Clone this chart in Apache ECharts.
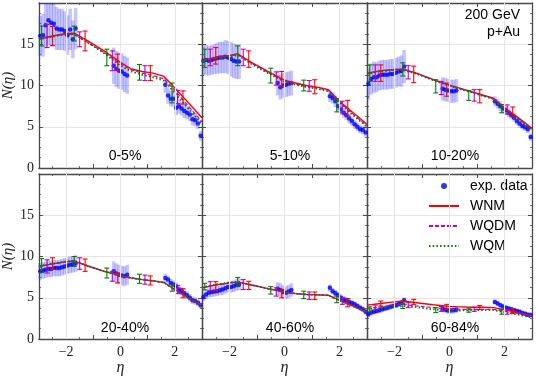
<!DOCTYPE html>
<html>
<head>
<meta charset="utf-8">
<script src="https://cdn.jsdelivr.net/npm/echarts@6/dist/echarts.min.js"></script>
<style>html,body{margin:0;padding:0;background:#fff}#main{width:536px;height:377px}</style>
</head>
<body>
<div id="main"></div>
<script>
const centralities = ['0-5%', '5-10%', '10-20%', '20-40%', '40-60%', '60-84%'];

// measured pseudorapidity bins (backward, mid, forward)
const etaExp = [-2.95, -2.85, -2.75, -2.65, -2.55, -2.45, -2.35, -2.25, -2.15, -2.05, -1.95, -1.85, -1.75, -1.65,
  -0.25, -0.15, -0.05, 0.05, 0.15, 0.25,
  1.65, 1.75, 1.85, 1.95, 2.05, 2.15, 2.25, 2.35, 2.45, 2.55, 2.65, 2.75, 2.85, 2.95];

// one row per centrality
const expN = [
  [16.0, 16.1, 17.3, 17.9, 17.6, 17.5, 16.9, 16.8, 16.8, 16.6, 16.1, 16.8, 15.6, 16.9,
    12.4, 12.0, 11.8, 11.7, 11.4, 11.2,
    10.1, 8.8, 8.4, 8.4, 7.3, 7.5, 7.2, 6.9, 6.7, 6.5, 5.9, 5.8, 5.4, 3.9],
  [13.0, 13.1, 13.0, 13.1, 13.2, 13.3, 13.4, 13.4, 13.5, 13.4, 13.2, 13.0, 12.9, 12.9,
    10.3, 9.8, 10.0, 10.1, 10.2, 10.3,
    8.7, 8.5, 8.1, 7.5, 7.1, 6.7, 6.4, 6.0, 5.7, 5.3, 5.0, 4.7, 4.6, 4.3],
  [10.2, 10.8, 11.0, 11.0, 11.2, 11.3, 11.3, 11.3, 11.4, 11.4, 11.55, 11.7, 11.75, 12.3,
    9.6, 9.5, 9.4, 9.3, 9.3, 9.4,
    8.1, 7.8, 7.5, 7.2, 7.0, 6.7, 6.4, 6.1, 5.7, 5.4, 5.1, 4.95, 4.7, 3.75],
  [8.2, 8.3, 8.4, 8.5, 8.5, 8.6, 8.6, 8.6, 8.7, 8.8, 8.9, 9.0, 9.05, 9.15,
    8.2, 7.95, 7.8, 7.7, 7.6, 7.8,
    7.4, 7.2, 6.8, 6.6, 6.35, 6.0, 5.8, 5.55, 5.3, 5.0, 4.7, 4.6, 4.4, 4.1],
  [5.1, 5.4, 5.6, 5.7, 5.75, 5.8, 5.9, 6.0, 6.15, 6.3, 6.3, 6.4, 6.55, 6.6,
    6.1, 5.95, 5.7, 5.6, 5.75, 5.95,
    6.2, 5.8, 5.55, 5.3, 5.0, 4.8, 4.7, 4.5, 4.35, 4.2, 4.0, 3.8, 3.6, 3.3],
  [3.0, 3.2, 3.3, 3.4, 3.5, 3.6, 3.7, 3.8, 3.9, 4.0, 4.1, 4.2, 4.4, 4.7,
    3.7, 3.55, 3.45, 3.45, 3.5, 3.55,
    4.5, 4.3, 4.1, 3.95, 3.8, 3.7, 3.6, 3.5, 3.4, 3.3, 3.15, 3.05, 2.95, 2.9]
];

const expErr = [
  [2.4, 2.6, 2.8, 3.0, 2.9, 2.8, 2.6, 2.5, 2.5, 2.4, 2.4, 2.5, 2.3, 2.5,
    2.2, 2.2, 2.2, 2.2, 2.2, 2.2,
    1.0, 1.0, 0.95, 0.95, 0.9, 0.9, 0.85, 0.85, 0.8, 0.8, 0.75, 0.75, 0.7, 0.6],
  [1.8, 1.8, 1.8, 1.8, 1.8, 1.9, 1.9, 1.9, 2.0, 2.0, 2.1, 2.1, 2.1, 2.1,
    1.5, 1.5, 1.5, 1.5, 1.5, 1.5,
    0.7, 0.7, 0.7, 0.65, 0.65, 0.6, 0.6, 0.6, 0.55, 0.55, 0.5, 0.5, 0.5, 0.5],
  [1.9, 1.9, 1.9, 1.8, 1.8, 1.8, 1.8, 1.8, 1.8, 1.8, 1.8, 1.8, 1.9, 2.0,
    1.4, 1.4, 1.4, 1.4, 1.4, 1.4,
    0.6, 0.6, 0.6, 0.55, 0.55, 0.55, 0.5, 0.5, 0.5, 0.5, 0.45, 0.45, 0.45, 0.45],
  [1.0, 1.0, 1.0, 1.0, 1.0, 1.0, 1.0, 1.0, 1.0, 1.0, 1.0, 1.0, 1.0, 1.0,
    1.2, 1.2, 1.2, 1.2, 1.2, 1.2,
    0.5, 0.5, 0.5, 0.5, 0.5, 0.5, 0.5, 0.5, 0.45, 0.45, 0.45, 0.45, 0.4, 0.4],
  [0.5, 0.55, 0.55, 0.6, 0.6, 0.6, 0.6, 0.65, 0.65, 0.65, 0.7, 0.7, 0.7, 0.7,
    0.8, 0.8, 0.8, 0.8, 0.8, 0.8,
    0.4, 0.4, 0.4, 0.4, 0.4, 0.4, 0.4, 0.4, 0.35, 0.35, 0.35, 0.35, 0.35, 0.35],
  [0.35, 0.35, 0.35, 0.35, 0.35, 0.35, 0.35, 0.35, 0.35, 0.35, 0.35, 0.35, 0.35, 0.35,
    0.4, 0.4, 0.4, 0.4, 0.4, 0.4,
    0.3, 0.3, 0.3, 0.3, 0.3, 0.3, 0.3, 0.3, 0.3, 0.3, 0.3, 0.3, 0.3, 0.3]
];

// model curves
const etaModel = [-3, -2.5, -2, -1.7, -1.2, -0.6, 0, 0.4, 0.8, 1.2, 1.6, 2, 2.5, 3];
const wnmN = [
  [15.6, 16.0, 16.3, 16.35, 15.4, 14.2, 12.8, 12.0, 11.7, 11.5, 11.1, 9.7, 7.9, 6.1],
  [13.05, 13.4, 13.65, 13.85, 12.8, 11.7, 10.65, 10.3, 10.0, 9.8, 9.5, 8.1, 6.7, 5.3],
  [11.5, 11.8, 11.95, 12.0, 11.5, 10.75, 10.05, 9.65, 9.25, 8.85, 8.45, 7.3, 6.1, 4.8],
  [8.8, 9.1, 9.35, 9.45, 8.85, 8.2, 7.7, 7.4, 7.2, 7.05, 6.85, 6.0, 5.0, 4.1],
  [6.2, 6.55, 6.8, 6.9, 6.55, 6.1, 5.7, 5.5, 5.4, 5.35, 5.3, 4.7, 4.0, 3.3],
  [4.1, 4.3, 4.5, 4.6, 4.4, 4.15, 3.95, 3.9, 3.85, 3.85, 3.8, 3.55, 3.2, 2.8]
];
const wqdmN = [
  [15.7, 16.0, 16.2, 16.2, 15.2, 14.0, 12.6, 11.9, 11.5, 11.2, 10.8, 9.4, 7.5, 5.6],
  [13.0, 13.3, 13.6, 13.75, 12.7, 11.6, 10.55, 10.2, 9.9, 9.7, 9.4, 8.0, 6.5, 5.1],
  [11.45, 11.75, 11.9, 11.95, 11.45, 10.7, 10.0, 9.6, 9.2, 8.8, 8.4, 7.2, 6.0, 4.7],
  [8.8, 9.1, 9.35, 9.45, 8.85, 8.2, 7.7, 7.4, 7.2, 7.05, 6.85, 5.95, 4.95, 4.05],
  [6.2, 6.55, 6.8, 6.9, 6.55, 6.1, 5.7, 5.5, 5.4, 5.35, 5.3, 4.65, 3.95, 3.25],
  [3.7, 3.9, 4.1, 4.2, 4.0, 3.8, 3.6, 3.6, 3.6, 3.6, 3.6, 3.35, 3.1, 2.8]
];
const wqmN = [
  [15.6, 15.9, 16.2, 16.2, 15.2, 13.9, 12.4, 11.7, 11.3, 11.0, 10.6, 9.1, 7.2, 5.3],
  [12.9, 13.2, 13.5, 13.7, 12.6, 11.5, 10.45, 10.1, 9.8, 9.6, 9.3, 7.9, 6.4, 5.0],
  [11.4, 11.7, 11.85, 11.9, 11.4, 10.65, 9.95, 9.55, 9.15, 8.75, 8.35, 7.15, 5.95, 4.65],
  [8.85, 9.15, 9.4, 9.5, 8.85, 8.2, 7.7, 7.4, 7.2, 7.05, 6.85, 5.95, 4.95, 4.0],
  [6.25, 6.6, 6.85, 6.95, 6.55, 6.1, 5.7, 5.5, 5.4, 5.35, 5.3, 4.65, 3.95, 3.2],
  [3.6, 3.75, 3.9, 4.0, 3.85, 3.6, 3.4, 3.45, 3.5, 3.5, 3.5, 3.25, 2.95, 2.6]
];

// model uncertainty bars: [centre, half-width]
const etaBarWQM = [-2.9, -1.7, -0.5, 0.7, 1.9];
const etaBarWQDM = [-2.7, -1.5, -0.3, 0.9, 2.1];
const etaBarWNM = [-2.5, -1.3, -0.1, 1.1, 2.3];
const wqmBars = [
  [[16.0, 1.2], [16.3, 0.9], [13.4, 1.0], [11.6, 0.95], [9.1, 1.2]],
  [[13.3, 1.1], [13.6, 1.2], [11.2, 0.9], [10.0, 0.65], [7.6, 0.8]],
  [[11.5, 1.0], [11.95, 0.8], [9.9, 0.8], [8.8, 0.6], [7.2, 0.5]],
  [[8.9, 0.85], [9.4, 0.6], [8.0, 0.6], [7.3, 0.55], [6.2, 0.4]],
  [[6.35, 0.4], [6.9, 0.55], [5.9, 0.45], [5.35, 0.45], [4.8, 0.4]],
  [[3.6, 0.3], [4.0, 0.3], [3.5, 0.3], [3.5, 0.25], [3.3, 0.3]]
];
const wqdmBars = [
  [[16.0, 1.4], [15.6, 0.9], [13.0, 1.2], [11.5, 0.9], [8.6, 0.8]],
  [[13.4, 1.0], [13.4, 1.0], [10.85, 0.8], [9.95, 0.65], [7.4, 0.7]],
  [[11.5, 1.0], [11.6, 0.8], [9.7, 0.8], [8.8, 0.7], [7.1, 0.55]],
  [[8.8, 0.8], [9.15, 0.7], [7.6, 0.6], [7.2, 0.55], [6.0, 0.5]],
  [[6.4, 0.55], [6.6, 0.6], [5.7, 0.5], [5.25, 0.45], [4.6, 0.4]],
  [[3.8, 0.3], [4.1, 0.3], [3.65, 0.3], [3.6, 0.25], [3.3, 0.3]]
];
const wnmBars = [
  [[16.0, 1.15], [15.4, 1.2], [12.8, 1.0], [11.5, 0.9], [8.55, 0.8]],
  [[13.6, 1.0], [13.2, 1.0], [10.8, 0.9], [9.85, 0.85], [7.25, 0.95]],
  [[11.5, 1.0], [11.35, 1.0], [9.5, 0.8], [8.7, 0.8], [6.85, 0.55]],
  [[9.15, 0.7], [8.95, 0.75], [7.4, 0.6], [7.1, 0.55], [5.55, 0.55]],
  [[6.4, 0.55], [6.5, 0.5], [5.5, 0.5], [5.25, 0.45], [4.4, 0.5]],
  [[4.3, 0.3], [4.5, 0.3], [3.9, 0.3], [3.8, 0.25], [3.4, 0.3]]
];

const xTickLabels = [-2, 0, 2];

const chart = echarts.init(document.getElementById('main'));

const axisColor = '#4a4a4a';
const gridColor = '#e6e6e6';
const serif = 'Liberation Serif';
const sans = 'Liberation Sans';
const bandHalf = 0.065;

function bandItem(params, api) {
  const x = api.value(0);
  const a = api.coord([x - bandHalf, api.value(2)]);
  const b = api.coord([x + bandHalf, api.value(1)]);
  return {
    type: 'rect',
    shape: { x: a[0], y: a[1], width: b[0] - a[0], height: b[1] - a[1] },
    style: { fill: 'rgba(40,40,255,0.27)' }
  };
}

function barRenderer(color) {
  return function (params, api) {
    const x = api.value(0), c = api.value(1), e = api.value(2);
    const t = api.coord([x, c + e]);
    const b = api.coord([x, c - e]);
    const cap = 2.5;
    const st = { stroke: color, lineWidth: 1.1 };
    return {
      type: 'group',
      children: [
        { type: 'line', shape: { x1: t[0], y1: t[1], x2: b[0], y2: b[1] }, style: st },
        { type: 'line', shape: { x1: t[0] - cap, y1: t[1], x2: t[0] + cap, y2: t[1] }, style: st },
        { type: 'line', shape: { x1: b[0] - cap, y1: b[1], x2: b[0] + cap, y2: b[1] }, style: st }
      ]
    };
  };
}

const grids = [], xAxes = [], yAxes = [], series = [], graphics = [];
const lefts = [37, 202, 367];
const tops = [3, 174];
const heights = [165, 166];

const models = [
  { name: 'WNM', vals: wnmN, bars: wnmBars, eta: etaBarWNM, color: '#ff0000', type: 'solid', width: 1.4 },
  { name: 'WQDM', vals: wqdmN, bars: wqdmBars, eta: etaBarWQDM, color: '#bf00bf', type: [4, 2], width: 1.2 },
  { name: 'WQM', vals: wqmN, bars: wqmBars, eta: etaBarWQM, color: '#008000', type: [1.5, 2.2], width: 1.8 }
];

centralities.forEach((cent, i) => {
  const col = i % 3, row = Math.floor(i / 3);
  grids.push({ left: lefts[col], top: tops[row], width: 165, height: heights[row] });
  const tick = { show: true, inside: true, length: 4, lineStyle: { color: axisColor, width: 1 } };
  const minor = { show: true, splitNumber: 2, length: 2, lineStyle: { color: axisColor, width: 0.8 } };
  xAxes.push({
    type: 'value', gridIndex: i, position: 'bottom', min: -3, max: 3, interval: 1,
    axisLine: { show: true, onZero: false, lineStyle: { color: axisColor, width: 1.3 } },
    axisTick: tick, minorTick: minor, splitLine: { show: false },
    axisLabel: {
      show: row === 1, customValues: xTickLabels, margin: 6,
      fontFamily: serif, fontSize: 14, color: '#222',
      formatter: v => (v < 0 ? '\u2212' + (-v) : String(v))
    },
    name: row === 1 ? 'η' : '', nameLocation: 'middle', nameGap: 21,
    nameTextStyle: { fontFamily: serif, fontStyle: 'italic', fontSize: 16, color: '#222' }
  });
  xAxes.push({
    type: 'value', gridIndex: i, position: 'top', min: -3, max: 3, interval: 1,
    axisLine: { show: true, onZero: false, lineStyle: { color: axisColor, width: 1.3 } },
    axisTick: tick, minorTick: minor, splitLine: { show: false }, axisLabel: { show: false }
  });
  const yminor = { show: true, splitNumber: 4, length: 2, lineStyle: { color: axisColor, width: 0.8 } };
  yAxes.push({
    type: 'value', gridIndex: i, position: 'left', min: 0, max: 20, interval: 5,
    axisLine: { show: true, onZero: false, lineStyle: { color: axisColor, width: 1.3 } },
    axisTick: tick, minorTick: yminor,
    splitLine: { show: true, lineStyle: { color: gridColor, width: 1 } },
    axisLabel: {
      show: col === 0, showMaxLabel: false, margin: 5,
      fontFamily: serif, fontSize: 14, color: '#222'
    },
    name: col === 0 ? 'N(η)' : '', nameLocation: 'middle', nameGap: 19, nameRotate: 90,
    nameTextStyle: { fontFamily: serif, fontStyle: 'italic', fontSize: 15, color: '#222' }
  });
  yAxes.push({
    type: 'value', gridIndex: i, position: 'right', min: 0, max: 20, interval: 5,
    axisLine: { show: true, onZero: false, lineStyle: { color: axisColor, width: 1.3 } },
    axisTick: tick, minorTick: yminor, splitLine: { show: false }, axisLabel: { show: false }
  });

  const xi = 2 * i, yi = 2 * i;
  // vertical grid lines at the labelled eta ticks, kept under the data
  series.push({
    type: 'line', name: 'grid', xAxisIndex: xi, yAxisIndex: yi, z: 0, silent: true, data: [],
    markLine: {
      silent: true, symbol: ['none', 'none'], label: { show: false },
      lineStyle: { color: gridColor, type: 'solid', width: 1 },
      data: xTickLabels.map(v => ({ xAxis: v }))
    }
  });
  series.push({
    type: 'custom', name: 'band', xAxisIndex: xi, yAxisIndex: yi, z: 1, silent: true,
    renderItem: bandItem, clip: true,
    encode: { x: 0, y: [1, 2] },
    data: etaExp.map((e, k) => [e, expN[i][k] - expErr[i][k], expN[i][k] + expErr[i][k]])
  });
  series.push({
    type: 'scatter', name: 'exp. data', xAxisIndex: xi, yAxisIndex: yi, z: 2,
    symbol: 'circle', symbolSize: 4.5, itemStyle: { color: '#0000ff' },
    data: etaExp.map((e, k) => [e, expN[i][k]])
  });
  models.forEach(m => {
    series.push({
      type: 'line', name: m.name, xAxisIndex: xi, yAxisIndex: yi, z: 3,
      symbol: 'none', smooth: false,
      lineStyle: { color: m.color, type: m.type, width: m.width },
      itemStyle: { color: m.color },
      data: etaModel.map((e, k) => [e, m.vals[i][k]])
    });
  });
  models.forEach(m => {
    series.push({
      type: 'custom', name: m.name + ' err', xAxisIndex: xi, yAxisIndex: yi, z: 4, silent: true,
      renderItem: barRenderer(m.color),
      encode: { x: 0, y: [1, 2] },
      data: m.eta.map((e, k) => [e, m.bars[i][k][0], m.bars[i][k][1]])
    });
  });

  graphics.push({
    type: 'text', z: 100, x: lefts[col] + 88, y: tops[row] + heights[row] - 12,
    style: { text: cent, fontFamily: sans, fontSize: 14, fill: '#000', align: 'center', verticalAlign: 'middle' }
  });
});

graphics.push({
  type: 'text', z: 100, right: 16, top: 8,
  style: { text: '200 GeV', fontFamily: sans, fontSize: 14, fill: '#000', align: 'right' }
});
graphics.push({
  type: 'text', z: 100, right: 16, top: 25,
  style: { text: 'p+Au', fontFamily: sans, fontSize: 14, fill: '#000', align: 'right' }
});

const option = {
  animation: false,
  backgroundColor: '#fff',
  grid: grids,
  xAxis: xAxes,
  yAxis: yAxes,
  legend: {
    orient: 'vertical', left: 423, top: 174, itemWidth: 30, itemHeight: 6, itemGap: 6,
    textStyle: { fontFamily: sans, fontSize: 14, color: '#000', padding: [0, 0, 0, 6] },
    data: [
      { name: 'exp. data', icon: 'circle' },
      { name: 'WNM', itemStyle: { opacity: 0 } },
      { name: 'WQDM', itemStyle: { opacity: 0 } },
      { name: 'WQM', itemStyle: { opacity: 0 } }
    ]
  },
  graphic: graphics,
  series: series
};

chart.setOption(option);
</script>
</body>
</html>
